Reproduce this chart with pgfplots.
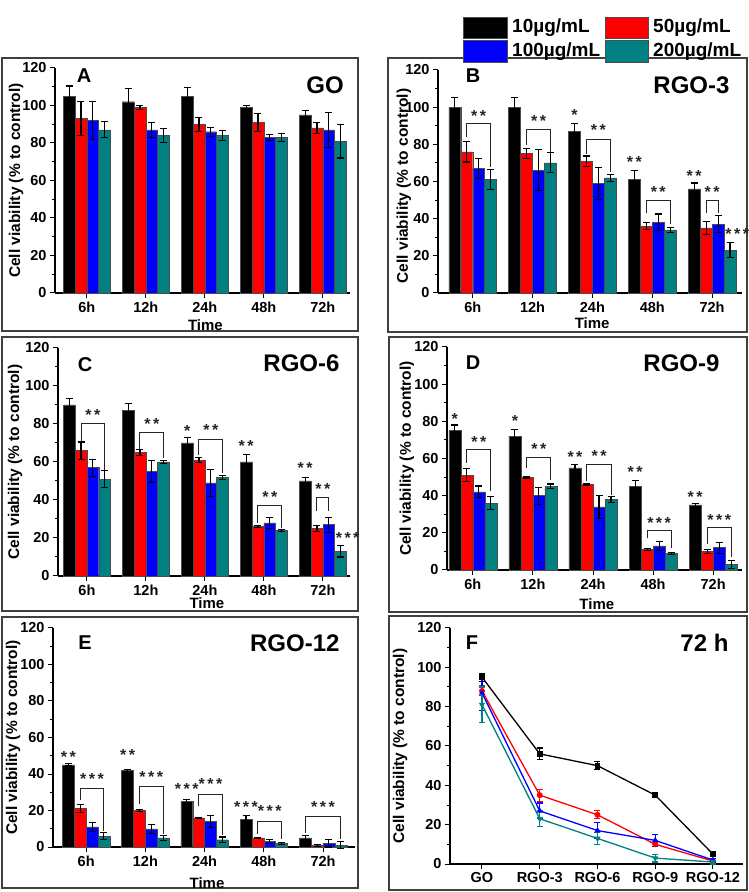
\documentclass[border=0pt]{standalone}
\usepackage{pgfplots}
\pgfplotsset{compat=1.18}
\usepackage{fontspec}
\setmainfont{Liberation Sans}
\definecolor{cteal}{RGB}{0,128,128}
\definecolor{cred}{RGB}{255,0,0}
\definecolor{cblue}{RGB}{0,0,255}
\newcommand\fs[1]{\fontsize{#1}{#1}\selectfont\bfseries}
\newcommand\brk[5]{\draw[black!85,line width=1pt] (axis cs:#1,#2) |- (axis cs:#3,#5) -- (axis cs:#3,#4);}
\newcommand\st[3]{\node[font=\fs{16},text=black!85,inner sep=0pt] at (axis cs:#1,#2) {#3};}
\newcommand\starA{*}
\newcommand\starB{*\kern2.5pt*}
\newcommand\starC{*\kern2.5pt*\kern2.5pt*}
\pgfplotsset{
  common/.style={
    scale only axis, clip=false, anchor=south west,
    ymin=0, ymax=120, ytick={0,20,...,120}, minor y tick num=1,
    axis lines*=left, axis line style={line width=1.3pt,-},
    tick style={black,line width=1pt}, major tick length=5pt, minor tick length=3pt, tick align=outside,
    /pgf/number format/assume math mode=true,
    ticklabel style={font=\fs{14.5}},
    ylabel={Cell viability (\% to control)},
    ylabel style={font=\fs{15.5}, anchor=center},
    xtick={0,...,4},
  },
  barpanel/.style={
    common,
    ybar=0pt, bar width=0.2,
    xticklabels={6h,12h,24h,48h,72h},
    xlabel={Time}, xlabel style={font=\fs{15}, anchor=center},
  },
  bb/.style={fill=#1, draw=black!70, line width=0.4pt,
    error bars/y dir=both, error bars/y explicit,
    error bars/error bar style={black,line width=1.1pt},
    error bars/error mark options={rotate=90,mark size=3.5pt,line width=1.1pt,black}},
  ll/.style={color=#1, line width=1.3pt, mark size=2.3pt,
    error bars/y dir=both, error bars/y explicit,
    error bars/error bar style={#1,line width=1.1pt},
    error bars/error mark options={rotate=90,mark size=3pt,line width=1.1pt,#1}},
}
\begin{document}
\begin{tikzpicture}
\useasboundingbox (0pt,0pt) rectangle (748pt,892pt);
\fill[white] (0pt,0pt) rectangle (748pt,892pt);
\foreach \a/\b/\c/\d in {2/58/358/331, 388/58/747/332, 2/337/358/611, 389/337/747/612, 2/617/358/888, 389/616/747/890}
  \draw[black!75,line width=1.8pt] (\a pt,{(892-\b)*1pt}) rectangle (\c pt,{(892-\d)*1pt});

% ---------- legend ----------
\draw[fill=black,draw=black!70,line width=0.8pt] (463pt,854pt) rectangle (507pt,875pt);
\draw[fill=cred,draw=black!70,line width=0.8pt] (605pt,854pt) rectangle (648pt,875pt);
\draw[fill=cblue,draw=black!70,line width=0.8pt] (463pt,830pt) rectangle (507pt,852pt);
\draw[fill=cteal,draw=black!70,line width=0.8pt] (605pt,830pt) rectangle (648pt,852pt);
\node[font=\fs{19},anchor=west,inner sep=0pt] at (512pt,864.5pt) {10µg/mL};
\node[font=\fs{19},anchor=west,inner sep=0pt] at (653pt,864.5pt) {50µg/mL};
\node[font=\fs{19},anchor=west,inner sep=0pt] at (512pt,840.5pt) {100µg/mL};
\node[font=\fs{19},anchor=west,inner sep=0pt] at (653pt,840.5pt) {200µg/mL};

% ---------- A : GO ----------
\begin{axis}[barpanel, at={(55pt,599pt)}, width=295pt, height=225pt, xmin=-0.54, xmax=4.46,
  ylabel style={at={(axis description cs:-0.132,0.5)}},
  xlabel style={at={(axis description cs:0.51,-0.142)}}]
\addplot[bb=black] coordinates {(0,105) +- (0,5.4) (1,102) +- (0,7) (2,105) +- (0,4.5) (3,99) +- (0,1.2) (4,95) +- (0,2.3)};
\addplot[bb=cred] coordinates {(0,93) +- (0,9) (1,99) +- (0,1) (2,90) +- (0,3.7) (3,91) +- (0,4.8) (4,88) +- (0,2.7)};
\addplot[bb=cblue] coordinates {(0,92) +- (0,10) (1,87) +- (0,4) (2,86) +- (0,2.4) (3,83) +- (0,1.5) (4,87) +- (0,9.3)};
\addplot[bb=cteal] coordinates {(0,87) +- (0,4.3) (1,84) +- (0,3.5) (2,84) +- (0,2.7) (3,83) +- (0,2) (4,81) +- (0,9)};
\end{axis}

% ---------- B : RGO-3 ----------
\begin{axis}[barpanel, at={(438pt,599pt)}, width=304pt, height=223pt, xmin=-0.58, xmax=4.5,
  ylabel style={at={(axis description cs:-0.112,0.48)}},
  xlabel style={at={(axis description cs:0.507,-0.135)}}]
\addplot[bb=black] coordinates {(0,100) +- (0,5) (1,100) +- (0,5.4) (2,87) +- (0,4) (3,61) +- (0,5) (4,56) +- (0,3.2)};
\addplot[bb=cred] coordinates {(0,76) +- (0,5.5) (1,75) +- (0,2.7) (2,71) +- (0,2.7) (3,36) +- (0,1.8) (4,35) +- (0,3.3)};
\addplot[bb=cblue] coordinates {(0,67) +- (0,5.5) (1,66) +- (0,11) (2,59) +- (0,8.6) (3,38) +- (0,4.5) (4,37) +- (0,4.5)};
\addplot[bb=cteal] coordinates {(0,61) +- (0,5.5) (1,70) +- (0,5.4) (2,62) +- (0,2) (3,34) +- (0,1.3) (4,23) +- (0,4)};
\brk{-0.1}{84}{0.3}{68}{91.4} \st{0.1}{95.5}{\starB}
\brk{0.9}{79.7}{1.3}{76}{87.8} \st{1.1}{92.5}{\starB}
\st{1.7}{96}{\starA} \brk{1.9}{75}{2.3}{65}{82.8} \st{2.1}{87.5}{\starB}
\st{2.7}{70.5}{\starB} \brk{2.9}{43}{3.3}{37}{49.8} \st{3.1}{54.5}{\starB}
\st{3.7}{63}{\starB} \brk{3.9}{43}{4.1}{43}{49.8} \st{4.0}{54.5}{\starB} \st{4.42}{31.5}{\starC}
\end{axis}

% ---------- C : RGO-6 ----------
\begin{axis}[barpanel, at={(58pt,316pt)}, width=292pt, height=228pt, xmin=-0.49, xmax=4.46,
  ylabel style={at={(axis description cs:-0.147,0.5)}},
  xlabel style={at={(axis description cs:0.51,-0.118)}}]
\addplot[bb=black] coordinates {(0,90) +- (0,3.5) (1,87) +- (0,4) (2,70) +- (0,3) (3,60) +- (0,4) (4,50) +- (0,2)};
\addplot[bb=cred] coordinates {(0,66) +- (0,4.5) (1,65) +- (0,1.5) (2,61) +- (0,1.5) (3,26) +- (0,0.5) (4,25) +- (0,1.5)};
\addplot[bb=cblue] coordinates {(0,57) +- (0,4.5) (1,55) +- (0,6) (2,49) +- (0,7) (3,28) +- (0,3) (4,27) +- (0,4)};
\addplot[bb=cteal] coordinates {(0,51) +- (0,4.5) (1,60) +- (0,1) (2,52) +- (0,1) (3,24) +- (0,0.5) (4,13) +- (0,3)};
\brk{-0.1}{71}{0.3}{56}{80} \st{0.1}{84.5}{\starB}
\brk{0.9}{67}{1.3}{62}{75.5} \st{1.1}{80}{\starB}
\st{1.7}{76.5}{\starA} \brk{1.9}{63.5}{2.3}{54}{72} \st{2.1}{77}{\starB}
\st{2.7}{68.5}{\starB} \brk{2.9}{28}{3.3}{25.5}{37} \st{3.1}{41.5}{\starB}
\st{3.7}{57}{\starB} \brk{3.9}{34}{4.1}{34}{41.3} \st{4.0}{46}{\starB} \st{4.42}{20}{\starC}
\end{axis}

% ---------- D : RGO-9 ----------
\begin{axis}[barpanel, at={(447pt,322pt)}, width=295pt, height=223pt, xmin=-0.43, xmax=4.48,
  ylabel style={at={(axis description cs:-0.136,0.5)}},
  xlabel style={at={(axis description cs:0.508,-0.152)}}]
\addplot[bb=black] coordinates {(0,75) +- (0,3) (1,72) +- (0,3.4) (2,55) +- (0,2) (3,45) +- (0,3) (4,35) +- (0,1)};
\addplot[bb=cred] coordinates {(0,51) +- (0,3.4) (1,50) +- (0,0.5) (2,46) +- (0,0.3) (3,11) +- (0,0.5) (4,10) +- (0,1)};
\addplot[bb=cblue] coordinates {(0,42) +- (0,3.2) (1,40) +- (0,4.6) (2,34) +- (0,6.3) (3,13) +- (0,2.5) (4,12) +- (0,3)};
\addplot[bb=cteal] coordinates {(0,36) +- (0,3.6) (1,45) +- (0,1.3) (2,38) +- (0,1.6) (3,9) +- (0,0.5) (4,3) +- (0,2)};
\st{-0.3}{81.5}{\starA} \brk{-0.1}{57.5}{0.3}{42.3}{64.6} \st{0.1}{69}{\starB}
\st{0.7}{80}{\starA} \brk{0.9}{54.8}{1.3}{48.6}{60.5} \st{1.1}{65}{\starB}
\st{1.7}{61}{\starB} \brk{1.9}{47.7}{2.3}{40.5}{57} \st{2.1}{61.5}{\starB}
\st{2.7}{52.5}{\starB} \brk{2.9}{17}{3.3}{12}{21} \st{3.1}{25.5}{\starC}
\st{3.7}{39.5}{\starB} \brk{3.9}{14}{4.3}{7}{22.7} \st{4.1}{27}{\starC}
\end{axis}

% ---------- E : RGO-12 ----------
\begin{axis}[barpanel, at={(53pt,45pt)}, width=302pt, height=219pt, xmin=-0.56, xmax=4.54,
  ylabel style={at={(axis description cs:-0.132,0.5)}},
  xlabel style={at={(axis description cs:0.51,-0.164)}}]
\addplot[bb=black] coordinates {(0,45) +- (0,0.6) (1,42) +- (0,0.5) (2,25) +- (0,1.1) (3,15) +- (0,2.4) (4,5) +- (0,1.1)};
\addplot[bb=cred] coordinates {(0,21) +- (0,2.2) (1,20) +- (0,0.5) (2,16) +- (0,0.3) (3,5) +- (0,0.3) (4,1) +- (0,0.5)};
\addplot[bb=cblue] coordinates {(0,11) +- (0,2.5) (1,10) +- (0,2.4) (2,14) +- (0,3.3) (3,3) +- (0,1.3) (4,2) +- (0,2)};
\addplot[bb=cteal] coordinates {(0,6) +- (0,1.8) (1,5) +- (0,1.2) (2,4) +- (0,1.5) (3,2) +- (0,0.5) (4,1) +- (0,2)};
\st{-0.3}{49.5}{\starB} \brk{-0.1}{25.5}{0.3}{9}{31.8} \st{0.1}{37}{\starC}
\st{0.7}{50.5}{\starB} \brk{0.9}{23.6}{1.3}{7.3}{33} \st{1.1}{38.5}{\starC}
\st{1.7}{32}{\starC} \brk{1.9}{22.7}{2.3}{6.4}{29} \st{2.1}{34.5}{\starC}
\st{2.7}{22}{\starC} \brk{2.9}{6.9}{3.3}{4.5}{14.2} \st{3.1}{19.5}{\starC}
\brk{3.7}{7.6}{4.3}{4.5}{16.7} \st{4.0}{21.8}{\starC}
\end{axis}

% ---------- F : 72 h ----------
\begin{axis}[common, at={(450pt,28pt)}, width=293pt, height=236pt, xmin=-0.554, xmax=4.52,
  xticklabels={GO,RGO-3,RGO-6,RGO-9,RGO-12},
  ylabel style={at={(axis description cs:-0.17,0.5)}}]
\addplot[mark=square*, ll=black] coordinates {(0,95) +- (0,2) (1,56) +- (0,3) (2,50) +- (0,2) (3,35) +- (0,1) (4,5) +- (0,1)};
\addplot[mark=*, ll=cred] coordinates {(0,88) +- (0,2.5) (1,35) +- (0,3) (2,25) +- (0,2) (3,10) +- (0,1) (4,1.5) +- (0,0.5)};
\addplot[mark=triangle*, ll=cblue] coordinates {(0,87) +- (0,9) (1,27) +- (0,4) (2,17) +- (0,4) (3,12) +- (0,3) (4,2) +- (0,1)};
\addplot[mark=triangle*, mark options={rotate=180}, ll=cteal] coordinates {(0,81) +- (0,9) (1,23) +- (0,4) (2,13) +- (0,3) (3,3) +- (0,2) (4,1) +- (0,1)};
\end{axis}

% ---------- panel titles ----------
\node[font=\fs{20}] at (84pt,816pt) {A};
\node[font=\fs{24}] at (325pt,807pt) {GO};
\node[font=\fs{20}] at (473pt,816pt) {B};
\node[font=\fs{24},anchor=east] at (733pt,807pt) {RGO-3};
\node[font=\fs{20}] at (85pt,527pt) {C};
\node[font=\fs{24},anchor=east] at (343pt,529pt) {RGO-6};
\node[font=\fs{20}] at (473pt,529pt) {D};
\node[font=\fs{24},anchor=east] at (723pt,529pt) {RGO-9};
\node[font=\fs{20}] at (85pt,249pt) {E};
\node[font=\fs{24},anchor=east] at (343pt,249pt) {RGO-12};
\node[font=\fs{20}] at (472pt,249pt) {F};
\node[font=\fs{24},anchor=east] at (732pt,249pt) {72 h};
\end{tikzpicture}
\end{document}
